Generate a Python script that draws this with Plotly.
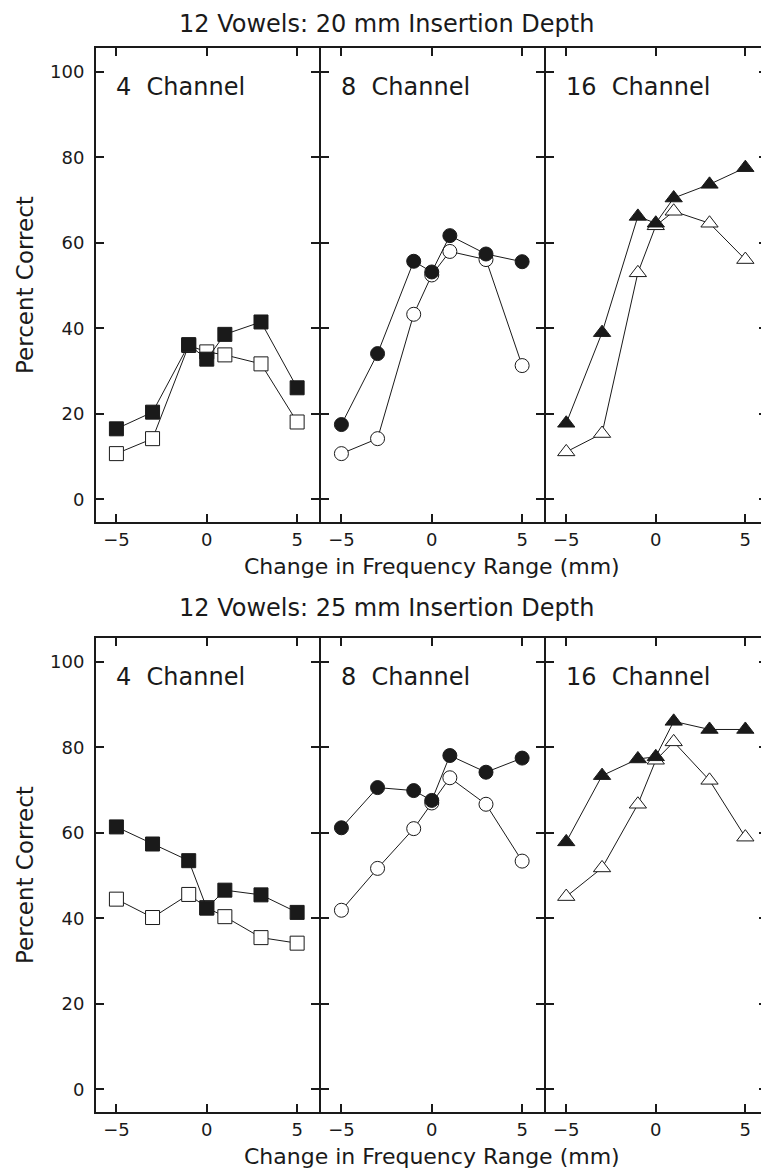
import plotly.graph_objects as go

# page body adds an 8px margin, so the figure is drawn 8px smaller and
# all reference pixel positions are shifted by 8px
OFF = 8
W, H = 769 - OFF, 1170 - OFF

x_vals = [-5, -3, -1, 0, 1, 3, 5]

# 20 mm insertion depth
d20_4_filled = [16.5, 20.4, 36.2, 32.8, 38.6, 41.5, 26.1]
d20_4_open = [10.7, 14.2, 36.0, 34.5, 33.8, 31.7, 18.1]
d20_8_filled = [17.5, 34.1, 55.7, 53.2, 61.7, 57.4, 55.6]
d20_8_open = [10.7, 14.2, 43.3, 52.5, 58.0, 56.1, 31.3]
d20_16_filled = [17.8, 39.0, 66.2, 64.6, 70.5, 73.7, 77.6]
d20_16_open = [11.1, 15.4, 53.0, 64.0, 67.4, 64.6, 56.1]

# 25 mm insertion depth
d25_4_filled = [61.4, 57.4, 53.5, 42.4, 46.6, 45.5, 41.4]
d25_4_open = [44.5, 40.2, 45.6, 42.5, 40.4, 35.5, 34.2]
d25_8_filled = [61.2, 70.6, 69.9, 67.6, 78.1, 74.2, 77.5]
d25_8_open = [41.9, 51.7, 61.0, 67.0, 72.9, 66.7, 53.4]
d25_16_filled = [57.9, 73.4, 77.3, 77.8, 86.1, 84.2, 84.2]
d25_16_open = [45.1, 51.8, 66.7, 77.0, 81.3, 72.3, 59.0]

panel_labels = ["4  Channel", "8  Channel", "16  Channel"]
titles = ["12 Vowels: 20 mm Insertion Depth", "12 Vowels: 25 mm Insertion Depth"]
x_title = "Change in Frequency Range (mm)"
y_title = "Percent Correct"
y_ticks = [0, 20, 40, 60, 80, 100]
x_ticks = [-5, 0, 5]

panels = [
    (d20_4_open, d20_4_filled, "square"),
    (d20_8_open, d20_8_filled, "circle"),
    (d20_16_open, d20_16_filled, "triangle-up"),
    (d25_4_open, d25_4_filled, "square"),
    (d25_8_open, d25_8_filled, "circle"),
    (d25_16_open, d25_16_filled, "triangle-up"),
]
msize = {"square": 14, "circle": 14, "triangle-up": 15}

FONT = "DejaVu Sans"
INK = "#1a1a1a"

# frame line centres in reference pixels
x_lines = [95, 320, 545, 768]
y_frames = [(47, 523), (637, 1113)]

fig = go.Figure()
layout = {}
annotations = []

for i, (op, fi, sym) in enumerate(panels):
    row, col = divmod(i, 3)
    n = i + 1
    xa = "x" if n == 1 else f"x{n}"
    ya = "y" if n == 1 else f"y{n}"
    for data, fill in ((op, "white"), (fi, INK)):
        fig.add_trace(go.Scatter(
            x=x_vals, y=data, xaxis=xa, yaxis=ya, mode="lines+markers",
            line=dict(color=INK, width=1),
            marker=dict(symbol=sym, size=msize[sym], color=fill,
                        line=dict(color=INK, width=1)),
            showlegend=False, cliponaxis=False,
        ))
    x0 = x_lines[col] + 1 - OFF
    x1 = x_lines[col + 1] - 1 - OFF
    yt, yb = y_frames[row]
    y0 = yt + 1 - OFF
    y1 = yb - 1 - OFF
    layout["xaxis" if n == 1 else f"xaxis{n}"] = dict(
        domain=[x0 / W, x1 / W], anchor=ya, range=[-6.13, 6.21],
        tickvals=x_ticks, ticktext=["\u22125", "0", "5"],
        ticks="inside", ticklen=8, tickwidth=2, tickcolor=INK,
        showline=True, linewidth=2, linecolor=INK, mirror="ticks",
        showgrid=False, zeroline=False, fixedrange=True,
        tickfont=dict(family=FONT, size=18, color=INK),
    )
    layout["yaxis" if n == 1 else f"yaxis{n}"] = dict(
        domain=[1 - y1 / H, 1 - y0 / H], anchor=xa, range=[-5.3, 105.6],
        tickvals=y_ticks, showticklabels=(col == 0),
        ticks="inside", ticklen=8, tickwidth=2, tickcolor=INK,
        showline=True, linewidth=2, linecolor=INK, mirror="ticks",
        showgrid=False, zeroline=False, fixedrange=True,
        ticklabelstandoff=6,
        tickfont=dict(family=FONT, size=18, color=INK),
    )
    annotations.append(dict(
        x=-5.15, y=96.5, xref=xa, yref=ya, text=panel_labels[col],
        showarrow=False, xanchor="left", yanchor="middle",
        font=dict(family=FONT, size=24, color=INK),
    ))

xtitle_y = [566, 1156]
for row in range(2):
    yt, yb = y_frames[row]
    if row == 0:
        t_y, t_anchor = 1.0, "top"
    else:
        t_y, t_anchor = 1 - (608 - OFF) / H, "middle"
    annotations.append(dict(
        x=(386 - OFF) / W, y=t_y, xref="paper", yref="paper",
        text=titles[row], showarrow=False, xanchor="center", yanchor=t_anchor,
        font=dict(family=FONT, size=24, color=INK),
    ))
    annotations.append(dict(
        x=(432 - OFF) / W, y=1 - (xtitle_y[row] - OFF) / H,
        xref="paper", yref="paper",
        text=x_title, showarrow=False, xanchor="center", yanchor="middle",
        font=dict(family=FONT, size=22, color=INK),
    ))
    annotations.append(dict(
        x=(25 - OFF) / W, y=1 - ((yt + yb) / 2 - OFF) / H,
        xref="paper", yref="paper",
        text=y_title, showarrow=False, xanchor="center", yanchor="middle",
        textangle=-90, font=dict(family=FONT, size=23, color=INK),
    ))

fig.update_layout(
    width=W, height=H, margin=dict(l=0, r=0, t=0, b=0),
    paper_bgcolor="white", plot_bgcolor="white",
    annotations=annotations, **layout,
)

fig.write_html("out.html")
